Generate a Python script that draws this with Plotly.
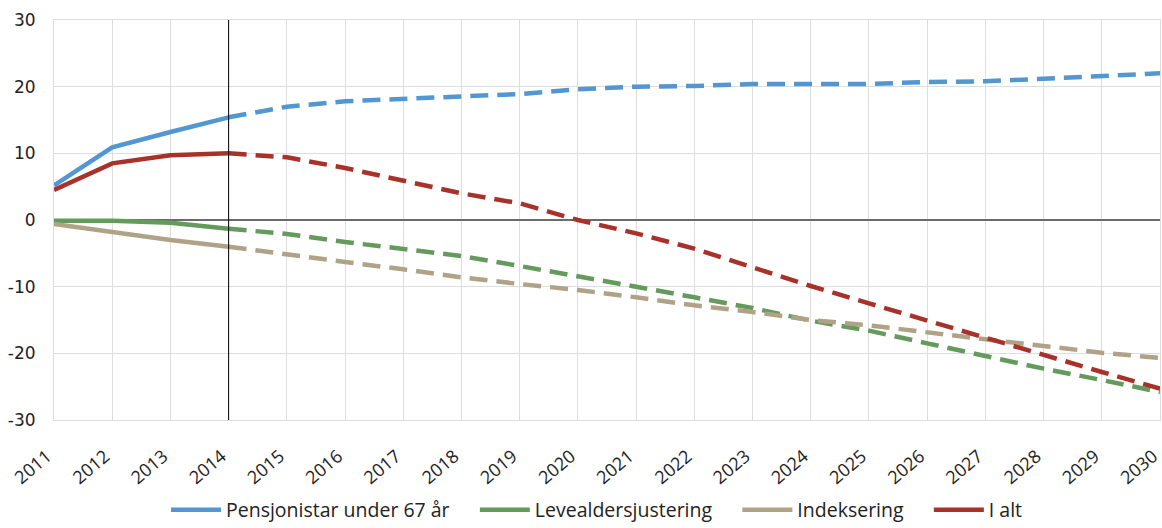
import plotly.graph_objects as go

years = list(range(2011, 2031))
pensjonistar = [5.2, 10.9, 13.2, 15.4, 17.0, 17.8, 18.2, 18.6, 18.9, 19.6, 20.0, 20.1, 20.4, 20.4, 20.4, 20.7, 20.8, 21.2, 21.6, 22.0]
levealder = [-0.1, -0.1, -0.4, -1.3, -2.1, -3.3, -4.3, -5.4, -6.9, -8.4, -10.0, -11.6, -13.2, -15.1, -16.6, -18.5, -20.4, -22.3, -24.0, -25.8]
indeksering = [-0.6, -1.8, -3.0, -4.0, -5.2, -6.3, -7.4, -8.6, -9.6, -10.5, -11.6, -12.8, -13.8, -15.0, -15.8, -16.9, -17.9, -18.9, -19.9, -20.7]
i_alt = [4.5, 8.5, 9.7, 10.0, 9.4, 7.8, 5.9, 4.0, 2.5, 0.0, -2.0, -4.3, -7.1, -9.9, -12.5, -15.1, -17.7, -20.2, -22.8, -25.3]

names = ["Pensjonistar under 67 år", "Levealdersjustering", "Indeksering", "I alt"]
series = [pensjonistar, levealder, indeksering, i_alt]
colors = ["#5296D2", "#649A5C", "#B0A286", "#A8312A"]
split_year = 2014
y_ticks = [-30, -20, -10, 0, 10, 20, 30]

fig = go.Figure()
k = years.index(split_year)
for name, vals, col in zip(names, series, colors):
    label = name + "\u00a0\u00a0\u00a0\u00a0"
    fig.add_trace(go.Scatter(x=years[:k + 1], y=vals[:k + 1], mode="lines", name=label,
                             line=dict(color=col, width=4.5), legendgroup=name))
    fig.add_trace(go.Scatter(x=years[k:], y=vals[k:], mode="lines", name=label, showlegend=False,
                             line=dict(color=col, width=4.5, dash="18px,9px"), legendgroup=name))

fig.add_shape(type="line", xref="x", yref="paper", x0=split_year, x1=split_year, y0=0, y1=1,
              line=dict(color="#000000", width=1))

fig.update_layout(
    width=1162, height=528,
    margin=dict(l=54, r=2, t=20, b=108),
    paper_bgcolor="white", plot_bgcolor="white",
    font=dict(family="Open Sans", size=17, color="#222222"),
    showlegend=True,
    legend=dict(orientation="h", x=0.5, xanchor="center", yref="container", y=0.034, yanchor="middle",
                font=dict(family="Open Sans", size=19.5, color="#222222"), itemwidth=50,
                traceorder="normal"),
)
fig.update_xaxes(range=[2010.9999, 2030.0001], tickmode="array", tickvals=years,
                 ticktext=[str(y) for y in years], automargin=False, ticklabeloverflow="allow",
                 tickangle=-40, showgrid=True, gridcolor="#DDDDDD", gridwidth=1,
                 showline=True, linecolor="#DDDDDD", mirror=True, zeroline=False,
                 ticks="outside", ticklen=18, tickcolor="rgba(0,0,0,0)",
                 ticklabelshift=-7,
                 tickfont=dict(family="Open Sans", size=18))
fig.update_yaxes(range=[-30, 30], tickmode="array", tickvals=y_ticks,
                 ticktext=[str(v) for v in y_ticks], automargin=False,
                 showgrid=True, gridcolor="#DDDDDD", gridwidth=1,
                 zeroline=True, zerolinecolor="#6B6B6B", zerolinewidth=1.5,
                 showline=True, linecolor="#DDDDDD", mirror=True,
                 ticks="outside", ticklen=14, tickcolor="rgba(0,0,0,0)",
                 tickfont=dict(family="DejaVu Sans", size=17))

fig.write_html("out.html", config={"displayModeBar": False},
               post_script="document.body.style.margin='0';document.body.style.overflow='hidden';")
